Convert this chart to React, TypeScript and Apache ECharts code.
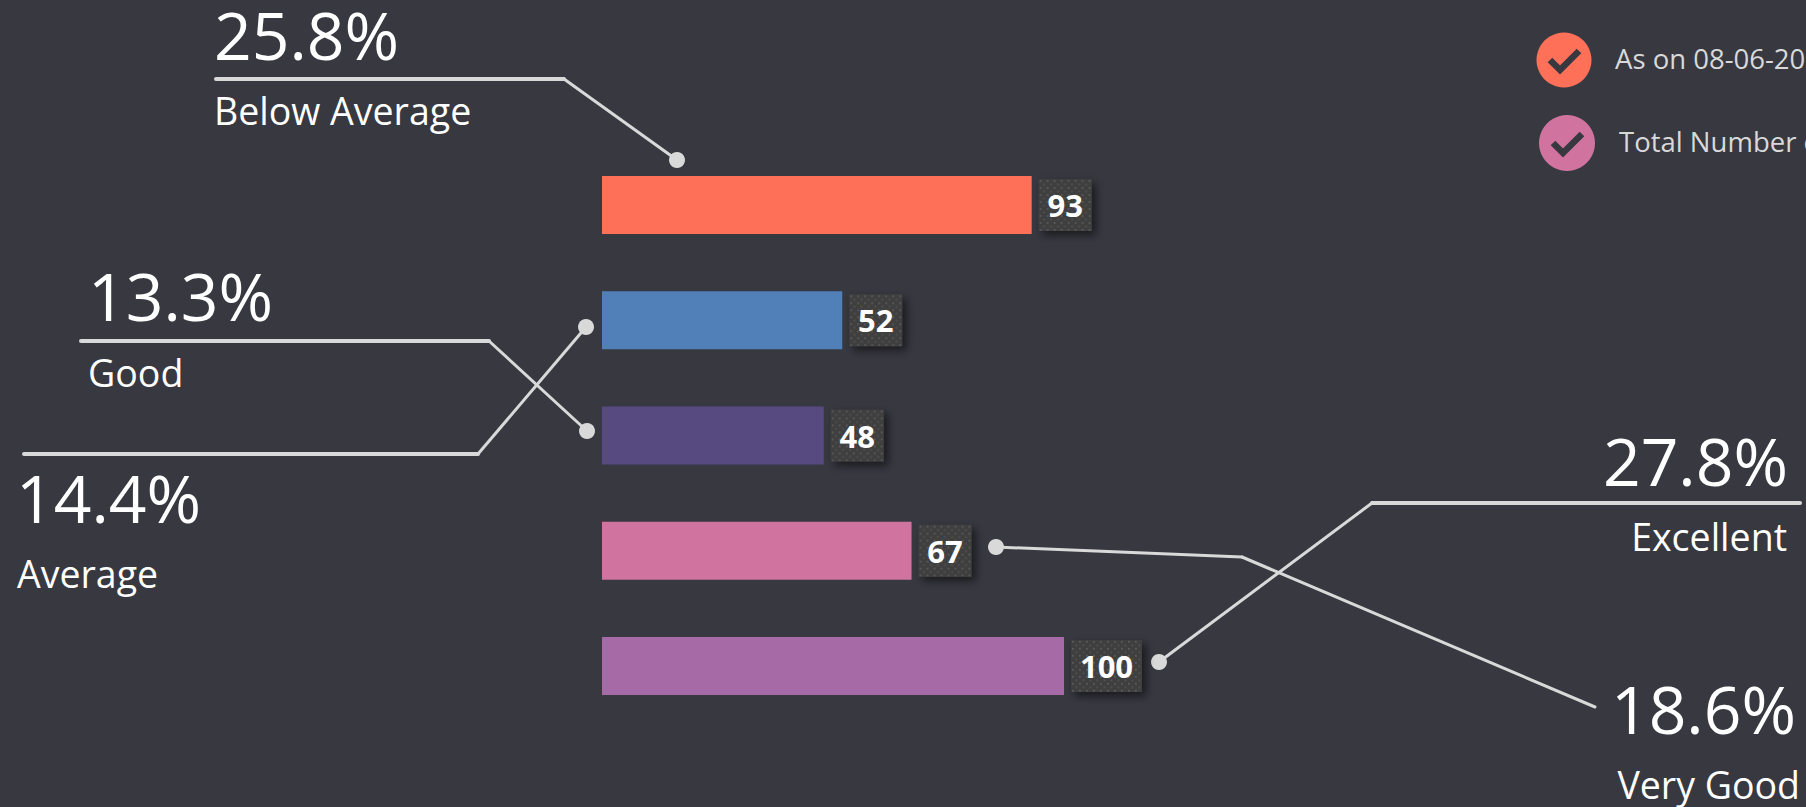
import React, { useEffect, useRef } from "react";
import * as echarts from "echarts";

const categories = ["Below Average", "Good", "Average", "Very Good", "Excellent"];
const counts = [93, 52, 48, 67, 100];
const shares = ["25.8%", "13.3%", "14.4%", "18.6%", "27.8%"];
const barColors = ["#ff7058", "#5180b8", "#564a80", "#d0749f", "#a66aa6"];
const legendTexts = ["As on 08-06-20", "Total Number of"];

const FONT = '"Open Sans", sans-serif';
const BG = "#373840";
const LINE = "#d9d9d9";

const dotted = (w: number, h: number) => {
  const svg = `<svg xmlns="http://www.w3.org/2000/svg" width="${w}" height="${h}"><defs><pattern id="p" width="7" height="7" patternUnits="userSpaceOnUse"><rect width="7" height="7" fill="#3f3f3f"/><rect x="1" y="1" width="1.8" height="1.8" fill="#5a5a5a"/><rect x="4.5" y="4.5" width="1.8" height="1.8" fill="#505050"/></pattern></defs><rect width="${w}" height="${h}" fill="url(#p)"/></svg>`;
  return "data:image/svg+xml;utf8," + encodeURIComponent(svg);
};

const shadowBox = (w: number) => ({
  width: w,
  height: 52,
  lineHeight: 52,
  fontSize: 31,
  backgroundColor: "#3f3f3f",
  shadowColor: "rgba(0,0,0,0.55)",
  shadowBlur: 9,
  shadowOffsetX: 4,
  shadowOffsetY: 4,
});

const faceBox = (w: number) => ({
  width: w,
  height: 52,
  lineHeight: 52,
  align: "center",
  verticalAlign: "middle",
  color: "#fff",
  fontFamily: FONT,
  fontWeight: 700,
  fontSize: 31,
  backgroundColor: { image: dotted(w, 52) },
});

const leaders = [
  { pts: [[216, 79], [564, 79], [677, 160]], dot: 2 },
  { pts: [[81, 341], [489, 341], [587, 431]], dot: 2 },
  { pts: [[24, 454], [478, 454], [586, 327]], dot: 2 },
  { pts: [[996, 547], [1242, 557], [1595, 707]], dot: 0 },
  { pts: [[1159, 662], [1372, 503], [1800, 503]], dot: 0 },
];

const callouts = [
  { idx: 0, sx: 214, sy: 57.5, lx: 214, ly: 124, align: "left" },
  { idx: 1, sx: 88, sy: 319, lx: 88, ly: 386, align: "left" },
  { idx: 2, sx: 16, sy: 521, lx: 17, ly: 587, align: "left" },
  { idx: 3, sx: 1796, sy: 731.5, lx: 1800, ly: 798, align: "right" },
  { idx: 4, sx: 1788, sy: 483.5, lx: 1787, ly: 550, align: "right" },
];

const txt = (text: string, x: number, base: number, size: number, fill: string, align: string, weight = 400) => ({
  type: "text",
  x,
  y: base - size * 0.36,
  silent: true,
  style: {
    text,
    fill,
    align,
    verticalAlign: "middle",
    font: `${weight} ${size}px ${FONT}`,
  },
});

const buildGraphic = () => {
  const out: any[] = [];
  leaders.forEach((l) => {
    for (let i = 0; i < l.pts.length - 1; i++) {
      const [a, b] = [l.pts[i], l.pts[i + 1]];
      out.push({
        type: "line",
        shape: { x1: a[0], y1: a[1], x2: b[0], y2: b[1] },
        style: { stroke: LINE, lineWidth: a[1] === b[1] ? 4 : 3, lineCap: "round" },
      });
    }
    const d = l.pts[l.dot];
    out.push({ type: "circle", shape: { cx: d[0], cy: d[1], r: 8 }, style: { fill: LINE } });
  });
  callouts.forEach((c) => {
    out.push(txt(shares[c.idx], c.sx, c.sy, 66, "#ffffff", c.align, 400));
    out.push(txt(categories[c.idx], c.lx, c.ly, 37.5, "#ffffff", c.align, 400));
  });
  const legend = [
    { cx: 1564, cy: 60, r: 27.5, color: barColors[0], tx: 1615, base: 68 },
    { cx: 1567, cy: 143, r: 28, color: barColors[3], tx: 1619, base: 151 },
  ];
  legend.forEach((g, i) => {
    out.push({ type: "circle", shape: { cx: g.cx, cy: g.cy, r: g.r }, style: { fill: g.color } });
    out.push({
      type: "polyline",
      shape: {
        points: [
          [g.cx - 14, g.cy],
          [g.cx - 4, g.cy + 10],
          [g.cx + 15, g.cy - 9],
        ],
      },
      style: { stroke: BG, lineWidth: 6.5, fill: "none" },
    });
    out.push(txt(legendTexts[i], g.tx, g.base, 27.5, "#d9d9d9", "left"));
  });
  return out;
};

export default function App() {
  const ref = useRef<HTMLDivElement>(null);
  useEffect(() => {
    document.body.style.margin = "0";
    document.body.style.background = BG;
    const chart = echarts.init(ref.current!, null, { renderer: "svg" });
    chart.setOption({
      animation: false,
      backgroundColor: BG,
      grid: { left: 602, top: 147.5, width: 462, height: 576, containLabel: false },
      xAxis: { type: "value", min: 0, max: 100, show: false },
      yAxis: { type: "category", data: categories, inverse: true, show: false },
      series: [
        {
          type: "bar",
          barWidth: 58,
          barGap: "-100%",
          data: counts.map((v, i) => ({ value: v, itemStyle: { color: barColors[i] } })),
          label: {
            show: true,
            position: "right",
            distance: 7,
            formatter: (p: any) => (p.value >= 100 ? "{w| }" : "{n| }"),
            rich: { n: shadowBox(53), w: shadowBox(71) },
          },
        },
        {
          type: "bar",
          barWidth: 58,
          barGap: "-100%",
          data: counts,
          itemStyle: { color: "transparent" },
          label: {
            show: true,
            position: "right",
            distance: 7,
            formatter: (p: any) => (p.value >= 100 ? `{w|${p.value}}` : `{n|${p.value}}`),
            rich: { n: faceBox(53), w: faceBox(71) },
          },
        },
      ],
      graphic: { elements: buildGraphic() },
    });
    return () => chart.dispose();
  }, []);
  return <div ref={ref} style={{ position: "fixed", left: 0, top: 0, width: 1806, height: 807, overflow: "hidden" }} />;
}
